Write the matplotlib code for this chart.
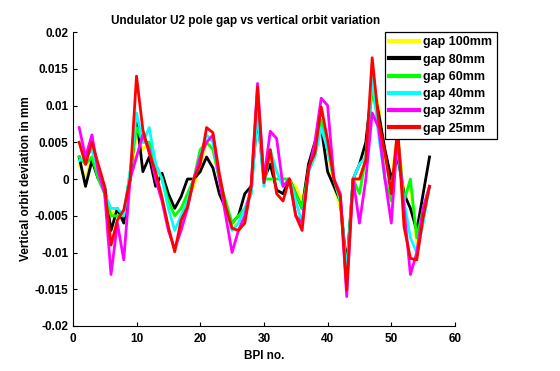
import matplotlib
matplotlib.use("Agg")
import matplotlib.pyplot as plt
import numpy as np

bpi = list(range(1, 57))

gap100 = [0.002, 0.0, 0.003, 0.001, -0.002, -0.005, -0.004, -0.005, 0.0, 0.006,
          0.004, 0.005, 0.002, 0.0, -0.003, -0.005, -0.004, -0.003, -0.001, 0.002,
          0.005, 0.004, 0.0, -0.004, -0.0065, -0.006, -0.004, -0.002, 0.011, 0.0,
          0.003, 0.001, 0.0, 0.0, -0.001, -0.003, 0.001, 0.003, 0.008, 0.004,
          -0.001, -0.004, -0.013, 0.0, 0.0, 0.003, 0.013, 0.010, 0.003, 0.0,
          0.006, -0.002, -0.001, -0.009, -0.005, -0.001]
gap80 = [0.003, -0.001, 0.0025, 0.0, -0.001, -0.007, -0.004, -0.006, 0.0, 0.0085,
         0.001, 0.003, -0.001, 0.0008, -0.002, -0.004, -0.0024, 0.0, 0.0, 0.001,
         0.003, 0.0015, -0.002, -0.004, -0.006, -0.005, -0.002, -0.001, 0.0085, 0.0,
         0.002, -0.0015, -0.002, 0.0, -0.002, -0.004, 0.002, 0.005, 0.007, 0.001,
         -0.001, -0.003, -0.012, 0.0, 0.002, 0.005, 0.013, 0.009, 0.004, 0.0,
         0.003, -0.002, -0.004, -0.007, -0.002, 0.003]
gap60 = [0.003, 0.002, 0.003, 0.0, -0.002, -0.005, -0.005, -0.005, 0.001, 0.007,
         0.005, 0.005, 0.002, 0.0, -0.003, -0.005, -0.004, -0.002, 0.0, 0.004,
         0.005, 0.004, 0.0, -0.003, -0.006, -0.005, -0.004, -0.002, 0.010, 0.0,
         0.0, 0.0, 0.0, 0.0, -0.002, -0.004, 0.001, 0.004, 0.008, 0.004,
         0.0, -0.003, -0.013, 0.0, -0.002, 0.003, 0.012, 0.008, 0.0, -0.003,
         0.006, -0.003, 0.0, -0.008, -0.004, -0.001]
gap40 = [0.0025, 0.003, 0.004, 0.001, -0.002, -0.004, -0.004, -0.005, 0.001, 0.009,
         0.005, 0.007, 0.002, 0.0, -0.004, -0.007, -0.005, -0.003, 0.0, 0.003,
         0.006, 0.005, 0.0, -0.004, -0.007, -0.006, -0.004, -0.002, 0.009, -0.001,
         0.004, 0.001, -0.001, 0.0, -0.003, -0.006, 0.001, 0.003, 0.007, 0.004,
         0.0, -0.003, -0.013, 0.0, 0.002, 0.003, 0.014, 0.006, 0.0, -0.001,
         0.004, -0.003, -0.008, -0.010, -0.006, -0.001]
gap32 = [0.007, 0.003, 0.006, 0.001, -0.002, -0.013, -0.006, -0.011, 0.0, 0.003,
         0.006, 0.004, 0.0, -0.003, -0.007, -0.0095, -0.007, -0.004, 0.0, 0.003,
         0.005, 0.006, 0.0, -0.005, -0.010, -0.007, -0.005, -0.001, 0.013, 0.0,
         0.0065, 0.0055, -0.001, 0.0, -0.005, -0.006, 0.001, 0.005, 0.011, 0.010,
         0.0, -0.002, -0.016, 0.0, -0.006, 0.0, 0.009, 0.007, 0.0, -0.006,
         0.006, -0.004, -0.013, -0.010, -0.004, -0.001]
gap25 = [0.005, 0.002, 0.005, 0.002, -0.001, -0.009, -0.0056, -0.0042, 0.0, 0.014,
         0.0067, 0.0035, 0.001, -0.0025, -0.0065, -0.0099, -0.0056, -0.0038, 0.0, 0.002,
         0.007, 0.0063, 0.0008, -0.0038, -0.0067, -0.007, -0.006, -0.001, 0.0125, -0.0005,
         0.004, -0.002, -0.003, 0.0, -0.005, -0.007, 0.0016, 0.0035, 0.0098, 0.0053,
         -0.0001, -0.0024, -0.0151, 0.0, 0.0, 0.0026, 0.0165, 0.008, 0.0035, -0.002,
         0.007, -0.0065, -0.0108, -0.011, -0.0052, -0.001]

labels = ["gap 100mm", "gap 80mm", "gap 60mm", "gap 40mm", "gap 32mm", "gap 25mm"]
colors = ["#ffff00", "#000000", "#00ff00", "#00ffff", "#ff00ff", "#ff0000"]
series = [gap100, gap80, gap60, gap40, gap32, gap25]

plt.rcParams['font.family'] = ['Liberation Sans', 'DejaVu Sans']
plt.rcParams['font.weight'] = 'bold'

fig = plt.figure(figsize=(5.6, 3.71), dpi=100)
ax = fig.add_axes([0.130, 0.1213, 0.6825, 0.7924])

handles = []
for ys, c, lab in zip(series, colors, labels):
    h, = ax.plot(bpi, ys, color=c, lw=2.0, label=lab)
    handles.append(h)

ax.set_xlim(0, 60)
ax.set_ylim(-0.02, 0.02)
ax.set_xticks([0, 10, 20, 30, 40, 50, 60])
yt = [-0.02, -0.015, -0.01, -0.005, 0, 0.005, 0.01, 0.015, 0.02]
ax.set_yticks(yt)
ax.set_yticklabels(["-0.02", "-0.015", "-0.01", "-0.005", "0", "0.005", "0.01", "0.015", "0.02"])
ax.spines['top'].set_visible(False)
ax.spines['right'].set_visible(False)
ax.tick_params(direction='in', length=3, labelsize=8.5, width=0.8)
ax.tick_params(axis='x', pad=5)
ax.tick_params(axis='y', pad=3)
for lab in ax.get_xticklabels() + ax.get_yticklabels():
    lab.set_fontweight('bold')

ax.set_title("Undulator U2 pole gap vs vertical orbit variation", fontsize=8.5,
             fontweight='bold', pad=6, x=0.4516)
ax.set_xlabel("BPI no.", fontsize=8.5, fontweight='bold', labelpad=4)
ax.set_ylabel("Vertical orbit deviation in mm", fontsize=8.5, fontweight='bold', labelpad=2)

leg = fig.legend(handles=handles, labels=labels, loc='upper left',
                 bbox_to_anchor=(0.6875, 0.9137), borderaxespad=0,
                 fancybox=False, framealpha=1, edgecolor='black',
                 prop={'size': 9, 'weight': 'bold'}, handlelength=2.4,
                 handletextpad=0.3, labelspacing=0.42, borderpad=0.35)
leg.get_frame().set_linewidth(0.9)
for l in leg.get_lines():
    l.set_linewidth(3)

fig.savefig("out.png", dpi=100)
